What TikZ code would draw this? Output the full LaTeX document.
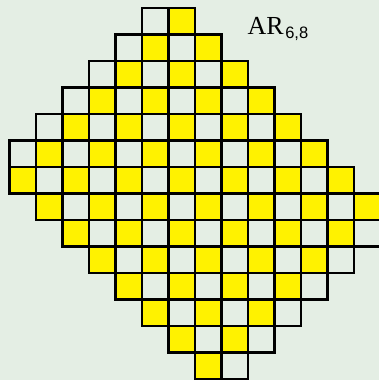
\documentclass[tikz,border=0pt]{standalone}
\usepackage{fontspec}
\setmainfont{Liberation Serif}
\newfontfamily\subsans{Liberation Sans}
\definecolor{bgc}{HTML}{E4EEE4}
\definecolor{cellY}{HTML}{FFF200}
\begin{document}
\begin{tikzpicture}[x=1pt,y=-1pt,
  cellbox/.style={draw=black,line width=2.1pt}]
\fill[bgc] (0,0) rectangle (379,380);
\useasboundingbox (0,0) rectangle (379,380);
\foreach \r/\a/\b in {0/5/6,1/4/7,2/3/8,3/2/9,4/1/10,5/0/11,6/0/12,7/1/13,8/2/13,9/3/12,10/4/11,11/5/10,12/6/9,13/7/8}{
  \foreach \c in {\a,...,\b}{
    \pgfmathtruncatemacro\parity{mod(\r+\c,2)}
    \ifnum\parity=0 \def\fc{cellY}\else\def\fc{bgc}\fi
    \filldraw[fill=\fc, cellbox] (9.5+26.5*\c, 8+26.5*\r) rectangle ++(26.5,26.5);
  }
}
\node[anchor=base west, inner sep=0pt] (title) at (247.5,34.5)
  {\fontsize{26}{26}\selectfont AR\kern1.5pt\raisebox{-4pt}{\subsans\fontsize{16.5}{16.5}\selectfont 6,8}};
\end{tikzpicture}
\end{document}
